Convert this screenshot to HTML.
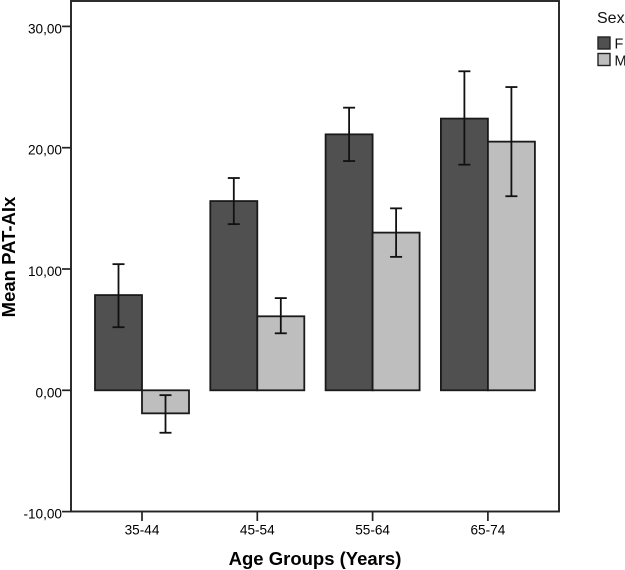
<!DOCTYPE html>
<html>
<head>
<meta charset="utf-8">
<style>
html,body{margin:0;padding:0;background:#fff;width:625px;height:570px;overflow:hidden}
svg{display:block;font-family:"Liberation Sans",Arial,sans-serif}
</style>
</head>
<body>
<svg id="chart" width="625" height="570" viewBox="0 0 625 570" xmlns="http://www.w3.org/2000/svg">
<rect x="71" y="1" width="488" height="510.5" fill="#fff" stroke="#222" stroke-width="1.9"/>
<text transform="translate(15,257) rotate(-90)" text-anchor="middle" font-size="18.5" font-weight="bold" fill="#000">Mean PAT-AIx</text>
<text x="315" y="565" text-anchor="middle" font-size="18.5" font-weight="bold" fill="#000">Age Groups (Years)</text>
<g>
<text x="597" y="23" font-size="16" fill="#111">Sex</text>
<rect x="598" y="37" width="12" height="12" fill="#505050" stroke="#222" stroke-width="1.4"/>
<text x="614.5" y="48.5" font-size="14.5" fill="#111">F</text>
<rect x="598" y="53.5" width="12" height="12" fill="#bebebe" stroke="#222" stroke-width="1.4"/>
<text x="614.5" y="65.5" font-size="14.5" fill="#111">M</text>
</g>
<g id="marks"></g>
</svg>
<script>
const categories = ["35-44", "45-54", "55-64", "65-74"];
const femaleValues = [7.85, 15.6, 21.1, 22.4];
const maleValues = [-1.9, 6.1, 13.0, 20.5];
const femaleLower = [5.2, 13.7, 18.9, 18.6];
const femaleUpper = [10.4, 17.5, 23.3, 26.3];
const maleLower = [-3.5, 4.7, 11.0, 16.0];
const maleUpper = [-0.4, 7.6, 15.0, 25.0];
const yTicks = [-10, 0, 10, 20, 30];
const yTickLabels = ["-10,00", "0,00", "10,00", "20,00", "30,00"];

function yScale(v) { return 390.3 - v * 12.13; }
function xScale(i) { return 142 + i * 115.3; }

const NS = "http://www.w3.org/2000/svg";
const root = document.getElementById("marks");
function make(tag, attrs) {
  const el = document.createElementNS(NS, tag);
  for (const k in attrs) el.setAttribute(k, attrs[k]);
  root.appendChild(el);
  return el;
}

yTicks.forEach(function (t, i) {
  const tick = make("line", {x1: 62, x2: 71, y1: yScale(t), y2: yScale(t), stroke: "#222", "stroke-width": 1.7});
  
  
  const label = make("text", {x: 62, y: yScale(t) + 7, "text-anchor": "end", "font-size": 13.6, fill: "#000"});
  
  
  label.textContent = yTickLabels[i];
});

function drawBar(x, value, fill, name) {
  const y0 = yScale(0), y1 = yScale(value);
  const bar = make("rect", {x: x, y: Math.min(y0, y1), width: 47, height: Math.abs(y1 - y0), fill: fill, stroke: "#1a1a1a", "stroke-width": 1.8});
  
  
}

function drawError(cx, low, high) {
  const yl = yScale(low), yh = yScale(high);
  const stem = make("line", {x1: cx, x2: cx, y1: yl, y2: yh, stroke: "#111", "stroke-width": 1.8});
  
  
  const capLow = make("line", {x1: cx - 6, x2: cx + 6, y1: yl, y2: yl, stroke: "#111", "stroke-width": 1.8});
  
  
  const capHigh = make("line", {x1: cx - 6, x2: cx + 6, y1: yh, y2: yh, stroke: "#111", "stroke-width": 1.8});
  
  
}

categories.forEach(function (c, i) {
  const cx = xScale(i);
  const tick = make("line", {x1: cx, x2: cx, y1: 511.5, y2: 521, stroke: "#222", "stroke-width": 1.7});
  
  
  const label = make("text", {x: cx, y: 534.5, "text-anchor": "middle", "font-size": 13.6, fill: "#000"});
  
  
  label.textContent = c;
  drawBar(cx - 47, femaleValues[i], "#505050", "bar-female");
  drawBar(cx, maleValues[i], "#bebebe", "bar-male");
  drawError(cx - 23.5, femaleLower[i], femaleUpper[i]);
  drawError(cx + 23.5, maleLower[i], maleUpper[i]);
});
</script>
</body>
</html>
